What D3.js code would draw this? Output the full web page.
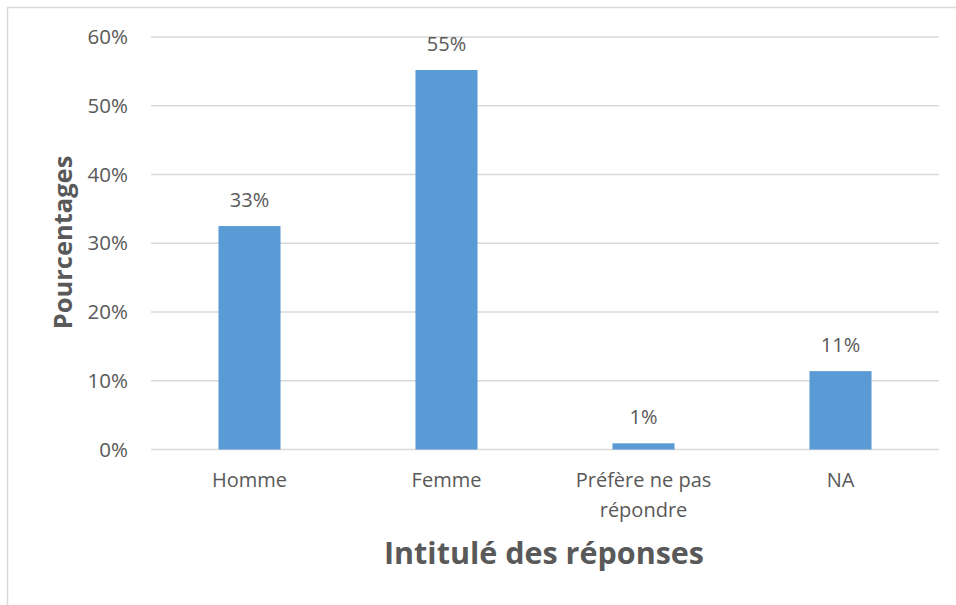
<!DOCTYPE html>
<html>
<head>
<meta charset="utf-8">
<script src="https://cdn.jsdelivr.net/npm/d3@7"></script>
<style>
  body { margin: 0; background: #fff; }
  text { font-family: "Open Sans", "Noto Sans", sans-serif; fill: #595959; }
</style>
</head>
<body>
<div class="mainVis"></div>
<script>
var categories = ["Homme", "Femme", "Préfère ne pas répondre", "NA"]
var values = [0.325, 0.552, 0.009, 0.114]
var valueLabels = ["33%", "55%", "1%", "11%"]
var yTicks = [0, 0.1, 0.2, 0.3, 0.4, 0.5, 0.6]

var width = 956, height = 605

var svg = d3.select(".mainVis")
    .append("svg")
    .attr("width", width)
    .attr("height", height)

// chart frame (cut off on right/bottom like the screenshot)
svg.append("path")
    .attr("d", "M7.5," + height + "V7.5H" + width)
    .attr("fill", "none")
    .attr("stroke", "#d9d9d9")
    .attr("stroke-width", 1.5)

var x = d3.scaleBand()
    .domain(categories)
    .range([151, 939])
    .paddingInner(0.685)
    .paddingOuter(0.3425)

var y = d3.scaleLinear()
    .domain([0, 0.6])
    .range([449.5, 37])

// gridlines
svg.append("g")
    .selectAll("line")
    .data(yTicks)
    .enter()
    .append("line")
    .attr("x1", 151)
    .attr("x2", 939)
    .attr("y1", function(d) { return y(d); })
    .attr("y2", function(d) { return y(d); })
    .attr("stroke", "#d9d9d9")
    .attr("stroke-width", 1.5)

// y tick labels
svg.append("g")
    .selectAll("text")
    .data(yTicks)
    .enter()
    .append("text")
    .attr("x", 128)
    .attr("y", function(d) { return y(d); })
    .attr("dy", "0.35em")
    .attr("text-anchor", "end")
    .style("font-size", "20.5px")
    .text(d3.format(".0%"))

// bars
svg.append("g")
    .selectAll("rect")
    .data(values)
    .enter()
    .append("rect")
    .attr("x", function(d, i) { return x(categories[i]); })
    .attr("width", x.bandwidth())
    .attr("y", function(d) { return y(d); })
    .attr("height", function(d) { return y(0) - y(d); })
    .attr("fill", "#5b9bd5")

// data labels
svg.append("g")
    .selectAll("text")
    .data(values)
    .enter()
    .append("text")
    .attr("x", function(d, i) { return x(categories[i]) + x.bandwidth() / 2; })
    .attr("y", function(d) { return y(d) - 19; })
    .attr("text-anchor", "middle")
    .style("font-size", "20px")
    .text(function(d, i) { return valueLabels[i]; })

// category labels (wrap the long one on two lines)
var catLines = {
    "Préfère ne pas répondre": ["Préfère ne pas", "répondre"]
}
svg.append("g")
    .selectAll("text")
    .data(categories)
    .enter()
    .append("text")
    .attr("x", function(d) { return x(d) + x.bandwidth() / 2; })
    .attr("y", 487)
    .attr("text-anchor", "middle")
    .style("font-size", "20px")
    .each(function(d) {
        var lines = catLines[d] || [d]
        var t = d3.select(this)
        lines.forEach(function(l, i) {
            t.append("tspan")
                .attr("x", x(d) + x.bandwidth() / 2)
                .attr("dy", i == 0 ? 0 : 30)
                .text(l)
        })
    })

// axis titles
svg.append("text")
    .attr("x", 544)
    .attr("y", 564)
    .attr("text-anchor", "middle")
    .style("font-size", "30.5px")
    .style("font-weight", "bold")
    .text("Intitulé des réponses")

svg.append("text")
    .attr("transform", "translate(72,242.5) rotate(-90)")
    .attr("text-anchor", "middle")
    .style("font-size", "25.5px")
    .style("font-weight", "bold")
    .text("Pourcentages")
</script>
</body>
</html>
